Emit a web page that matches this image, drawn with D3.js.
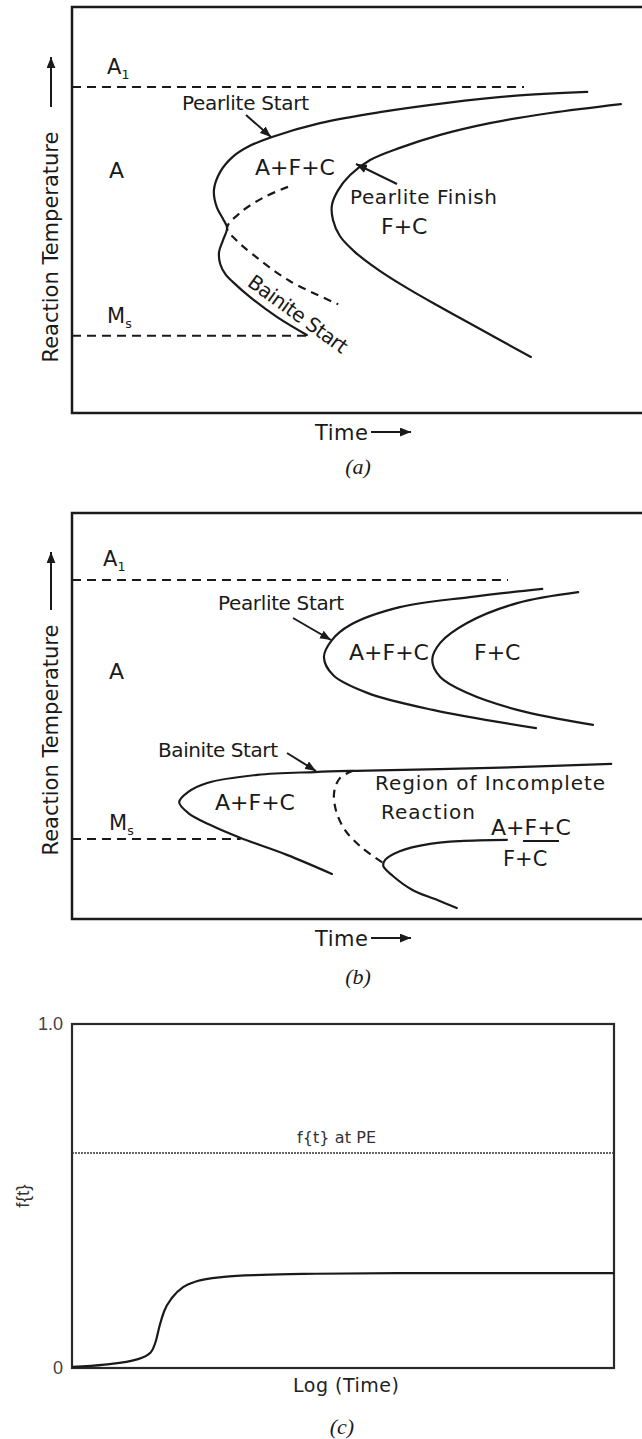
<!DOCTYPE html>
<html>
<head>
<meta charset="utf-8">
<script src="https://cdn.jsdelivr.net/npm/d3@7"></script>
<style>
  body { margin: 0; background: #fff; }
  svg { display: block; }
  text { font-family: "DejaVu Sans", "Liberation Sans", sans-serif; fill: #1a1a1a; }
  .cap { font-family: "Liberation Serif", serif; font-style: italic; }
</style>
</head>
<body>
<script>
// ---------- Panel (a): TTT diagram, [time, temperature] in relative units (0–100) ----------
const levelsA = { A1: 80.3, Ms: 19.0 };
const levelEndsA = { A1: 79.3, Ms: 41.2 };
const startCurveA = [[90.4,79.1],[77.4,78.1],[65.8,76.4],[54.0,74.1],[43.5,71.4],[35.1,68.0],[31.2,65.8],[28.2,63.1],[26.0,59.4],[24.9,54.9],[25.4,50.7],[26.5,47.8],[27.2,45.6],[26.5,42.6],[25.8,39.7],[26.0,36.7],[27.0,34.0],[28.2,32.3],[31.2,28.6],[36.0,23.6],[41.2,19.2]];
const finishCurveA = [[96.3,76.1],[83.9,73.9],[73.3,71.4],[64.6,68.5],[57.5,65.3],[52.3,62.3],[48.8,58.6],[46.7,54.9],[45.6,51.2],[45.8,47.5],[47.0,43.6],[49.6,39.7],[54.0,35.0],[59.1,30.5],[64.6,26.1],[70.0,21.9],[80.5,13.8]];
const dashedCurveA = [[37.9,55.7],[33.5,53.0],[29.5,49.3],[27.2,45.6],[28.8,42.6],[31.6,39.2],[38.2,32.5],[46.7,26.8]];

// ---------- Panel (b): TTT diagram with separated pearlite and bainite C-curves ----------
const levelsB = { A1: 83.5, Ms: 19.7 };
const levelEndsB = { A1: 76.5, Ms: 29.6 };
const pearliteStartB = [[82.5,81.3],[69.8,79.3],[57.5,76.8],[48.8,72.4],[45.6,68.7],[44.2,64.5],[45.8,60.1],[51.8,55.7],[63.3,51.5],[81.4,47.0]];
const pearliteFinishB = [[88.8,80.5],[78.1,77.8],[69.3,72.9],[64.6,68.0],[63.2,63.8],[64.6,59.6],[69.3,55.7],[78.1,51.5],[91.4,47.8]];
const bainiteStartB = [[94.6,38.2],[73.5,37.2],[49.8,36.5],[42.6,36.2],[32.5,35.5],[23.7,33.5],[20.4,31.3],[18.8,28.8],[20.4,26.1],[24.2,23.2],[29.5,20.0],[37.7,15.8],[45.6,11.1]];
const incompleteBoundaryB = [[49.3,36.5],[47.0,34.7],[46.0,31.3],[46.3,26.8],[47.9,21.9],[50.9,17.5],[54.6,13.8]];
const bainiteFinishB = [[76.3,19.5],[68.1,19.2],[62.8,18.5],[57.5,16.7],[54.9,14.5],[54.6,13.1],[56.3,10.6],[59.8,7.1],[63.7,4.9],[67.5,2.7]];

// ---------- Panel (c): transformed fraction vs log(time) ----------
const logTime = [0, 0.6, 1.2, 1.45, 1.55, 1.62, 1.7, 1.85, 2.05, 2.3, 2.8, 3.5, 4.5, 6, 10];
const fraction = [0.003, 0.01, 0.025, 0.045, 0.08, 0.125, 0.165, 0.205, 0.235, 0.252, 0.265, 0.271, 0.274, 0.276, 0.276];
const fractionPE = 0.625;
const yTicksC = [0, 1.0];
const yTickLabelsC = ["0", "1.0"];

const W = 642, H = 1439;
const ink = "#1a1a1a";

const svg = d3.select("body").append("svg").attr("width", W).attr("height", H);

// arrowhead marker shared by every arrow
svg.append("defs").append("marker")
  .attr("id", "head").attr("viewBox", "0 0 10 8")
  .attr("refX", 10).attr("refY", 4)
  .attr("markerUnits", "userSpaceOnUse")
  .attr("markerWidth", 11).attr("markerHeight", 9)
  .attr("orient", "auto")
  .append("path").attr("d", "M0,0L10,4L0,8Z").attr("fill", ink);

const smooth = d3.line().curve(d3.curveCatmullRom.alpha(0.5));

function arrow(g, x1, y1, x2, y2, w = 2) {
  g.append("line").attr("x1", x1).attr("y1", y1).attr("x2", x2).attr("y2", y2)
    .attr("stroke", ink).attr("stroke-width", w).attr("marker-end", "url(#head)");
}

// text label; "len" stretches the letter spacing to the wanted run length
function label(g, txt, x, y, opts = {}) {
  const t = g.append("text").attr("x", x).attr("y", y)
    .attr("font-size", opts.size || 20)
    .attr("text-anchor", opts.anchor || "start");
  if (opts.len) t.attr("textLength", opts.len).attr("lengthAdjust", "spacing");
  t.text(txt);
  return t;
}

function subLabel(g, main, sub, x, y, size = 21) {
  const t = g.append("text").attr("x", x).attr("y", y).attr("font-size", size);
  t.append("tspan").text(main);
  t.append("tspan").attr("font-size", size * 0.6).attr("dy", 5).text(sub);
}

function tttPanel(top, bottom, yArrow, yLabelCenter) {
  const x = d3.scaleLinear([0, 100], [72, 642]);
  const y = d3.scaleLinear([0, 100], [bottom, top]);
  const g = svg.append("g");
  const line = smooth.x(d => x(d[0])).y(d => y(d[1]));
  // frame (right side runs past the page edge)
  g.append("rect").attr("x", 72).attr("y", top).attr("width", 600).attr("height", bottom - top)
    .attr("fill", "none").attr("stroke", ink).attr("stroke-width", 2.5);
  // y-axis title with arrow
  g.append("text").attr("transform", `translate(51,${yLabelCenter}) rotate(-90)`)
    .attr("text-anchor", "middle").attr("dominant-baseline", "central")
    .attr("font-size", 21).text("Reaction Temperature");
  arrow(g, 51, yArrow[0], 51, yArrow[1], 2);
  // time title with arrow
  label(g, "Time", 315, bottom + 27, { size: 21, len: 53 });
  arrow(g, 371, bottom + 19, 411, bottom + 19, 2);
  return { g, x, y, line };
}

function levelLine(p, level, end) {
  p.g.append("line").attr("x1", 72).attr("x2", p.x(end))
    .attr("y1", p.y(level)).attr("y2", p.y(level))
    .attr("stroke", ink).attr("stroke-width", 2).attr("stroke-dasharray", "9,6");
}

function curve(p, data, dashed) {
  const path = p.g.append("path").attr("d", p.line(data)).attr("fill", "none")
    .attr("stroke", ink).attr("stroke-width", 2.2).attr("stroke-linecap", "round");
  if (dashed) path.attr("stroke-dasharray", "8,6").attr("stroke-linecap", "butt");
}

// ----- (a) -----
const pa = tttPanel(7, 413, [107, 57], 247);
levelLine(pa, levelsA.A1, levelEndsA.A1);
levelLine(pa, levelsA.Ms, levelEndsA.Ms);
curve(pa, startCurveA);
curve(pa, finishCurveA);
curve(pa, dashedCurveA, true);
subLabel(pa.g, "A", "1", 107, 74);
label(pa.g, "A", 109, 178, { size: 22 });
subLabel(pa.g, "M", "s", 107, 323);
label(pa.g, "Pearlite Start", 182, 110, { len: 127 });
arrow(pa.g, 246, 115, 271, 137);
label(pa.g, "A+F+C", 255, 175, { size: 22 });
label(pa.g, "Pearlite Finish", 350, 204, { len: 147 });
arrow(pa.g, 397, 184, 356, 164);
label(pa.g, "F+C", 381, 234, { size: 22 });
pa.g.append("text").attr("transform", "translate(298,314) rotate(36)")
  .attr("text-anchor", "middle").attr("dominant-baseline", "central")
  .attr("font-size", 20).attr("textLength", 118).attr("lengthAdjust", "spacing")
  .text("Bainite Start");
svg.append("text").attr("class", "cap").attr("x", 358).attr("y", 474)
  .attr("text-anchor", "middle").attr("font-size", 22).text("(a)");

// ----- (b) -----
const pb = tttPanel(513, 919, [610, 552], 740);
levelLine(pb, levelsB.A1, levelEndsB.A1);
levelLine(pb, levelsB.Ms, levelEndsB.Ms);
curve(pb, pearliteStartB);
curve(pb, pearliteFinishB);
curve(pb, bainiteStartB);
curve(pb, incompleteBoundaryB, true);
curve(pb, bainiteFinishB);
subLabel(pb.g, "A", "1", 103, 566);
label(pb.g, "A", 109, 679, { size: 22 });
subLabel(pb.g, "M", "s", 109, 830);
label(pb.g, "Pearlite Start", 218, 610, { len: 126 });
arrow(pb.g, 293, 618, 331, 640);
label(pb.g, "A+F+C", 349, 660, { size: 22 });
label(pb.g, "F+C", 474, 660, { size: 22 });
label(pb.g, "Bainite Start", 158, 757, { len: 120 });
arrow(pb.g, 287, 753, 316, 771);
label(pb.g, "A+F+C", 215, 810, { size: 22 });
label(pb.g, "Region of Incomplete", 375, 790, { len: 230 });
label(pb.g, "Reaction", 381, 819, { len: 94 });
label(pb.g, "A+F+C", 491, 835, { size: 22 });
pb.g.append("line").attr("x1", 523).attr("x2", 559).attr("y1", 841).attr("y2", 841)
  .attr("stroke", ink).attr("stroke-width", 2);
label(pb.g, "F+C", 503, 866, { size: 21 });
svg.append("text").attr("class", "cap").attr("x", 358).attr("y", 984)
  .attr("text-anchor", "middle").attr("font-size", 22).text("(b)");

// ----- (c) -----
const xc = d3.scaleLinear([0, 10], [72, 614]);
const yc = d3.scaleLinear([0, 1], [1368, 1024]);
const gc = svg.append("g");
gc.append("rect").attr("x", xc(0)).attr("y", yc(1)).attr("width", xc(10) - xc(0)).attr("height", yc(0) - yc(1))
  .attr("fill", "none").attr("stroke", "#2a2a2a").attr("stroke-width", 2.2);
gc.selectAll(".tick").data(yTicksC).join("text")
  .attr("x", 63).attr("y", d => yc(d)).attr("text-anchor", "end").attr("dominant-baseline", "central")
  .attr("font-size", 18).style("font-family", "'Liberation Sans', sans-serif").style("fill", "#444")
  .text((d, i) => yTickLabelsC[i]);
gc.append("text").attr("transform", `translate(22,${yc(0.5)}) rotate(-90)`)
  .attr("text-anchor", "middle").attr("dominant-baseline", "central")
  .attr("font-size", 19).style("font-family", "'Liberation Sans', sans-serif").style("fill", "#333")
  .text("f{t}");
gc.append("line").attr("x1", xc(0)).attr("x2", xc(10)).attr("y1", yc(fractionPE)).attr("y2", yc(fractionPE))
  .attr("stroke", "#333").attr("stroke-width", 1.3).attr("stroke-dasharray", "2,1");
label(gc, "f{t} at PE", 297, yc(fractionPE) - 10, { size: 16, len: 79 }).style("fill", "#333");
const lineC = d3.line().curve(d3.curveMonotoneX).x((d, i) => xc(logTime[i])).y(d => yc(d));
gc.append("path").attr("d", lineC(fraction)).attr("fill", "none")
  .attr("stroke", ink).attr("stroke-width", 2.2);
label(gc, "Log (Time)", 293, 1392, { size: 19, len: 106 }).style("fill", "#222");
svg.append("text").attr("class", "cap").attr("x", 342).attr("y", 1434)
  .attr("text-anchor", "middle").attr("font-size", 22).text("(c)");
</script>
</body>
</html>
